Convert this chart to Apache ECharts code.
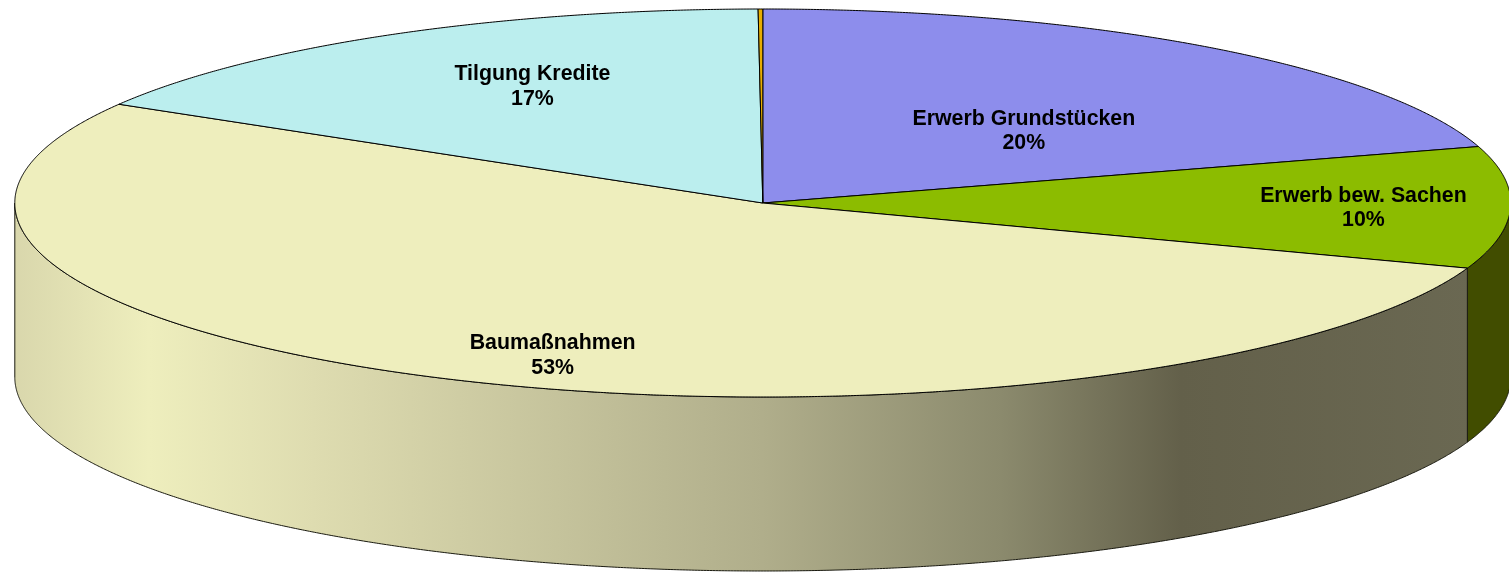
<!DOCTYPE html>
<html><head><meta charset="utf-8">
<style>html,body{margin:0;padding:0;background:#fff}#c{width:1509px;height:572px}</style>
<script src="https://cdn.jsdelivr.net/npm/echarts@6/dist/echarts.min.js"></script>
</head><body><div id="c"></div>
<script>
// data, clockwise from 12 o'clock
const categories = ['Erwerb Grundstücken', 'Erwerb bew. Sachen', 'Baumaßnahmen', 'Tilgung Kredite', 'Sonstige'];
const values = [20.3, 10.15, 53.05, 16.4, 0.1];
const percentLabels = ['20%', '10%', '53%', '17%', ''];

// presentation
const topColors = ['#8d8dec', '#8cbc00', '#eeeebd', '#bbeeee', '#e8ae00'];
const GEOM = {cx: 762.8, cy: 203, rx: 748, ry: 194, depth: 174};
const labelOffsets = [[0.349, -0.37], [0.803, 0.027], [-0.281, 0.787], [-0.308, -0.60], null];
const FONT = 'bold 21.33px "Liberation Sans", Arial, sans-serif';
const total = values.reduce((a, b) => a + b, 0);
const starts = values.map((_, i) => values.slice(0, i).reduce((a, b) => a + b, 0) / total * 2 * Math.PI);
const ends = values.map((_, i) => values.slice(0, i + 1).reduce((a, b) => a + b, 0) / total * 2 * Math.PI);
const pt = (a, dy = 0) => [GEOM.cx + GEOM.rx * Math.sin(a), GEOM.cy - GEOM.ry * Math.cos(a) + dy];
const arc = (a0, a1, dy = 0) => {
  const n = Math.max(2, Math.ceil((a1 - a0) / 0.004));
  const out = [];
  for (let k = 0; k <= n; k++) out.push(pt(a0 + (a1 - a0) * k / n, dy));
  return out;
};
const sideFill = [
  null,
  '#414d00',
  {type: 'linear', x: 14, y: 0, x2: 1510, y2: 0, global: true, colorStops: [
    {offset: 0, color: '#d9d7ac'}, {offset: 0.09, color: '#eeeebd'}, {offset: 0.2, color: '#dedcb0'},
    {offset: 0.5, color: '#b0ae8b'}, {offset: 0.66, color: '#8b8a6d'}, {offset: 0.78, color: '#63604a'},
    {offset: 1, color: '#6b6953'}]},
  null, null
];
const renderSide = (params) => {
  const i = params.dataIndex;
  const a0 = Math.max(starts[i], Math.PI / 2), a1 = Math.min(ends[i], 1.5 * Math.PI);
  if (a1 <= a0 || !sideFill[i]) return null;
  const pts = arc(a0, a1).concat(arc(a0, a1, GEOM.depth).reverse());
  return {type: 'polygon', shape: {points: pts}, style: {fill: sideFill[i], stroke: '#1a1a10', lineWidth: 1}};
};
const renderTop = (params) => {
  const i = params.dataIndex;
  const pts = [[GEOM.cx, GEOM.cy]].concat(arc(starts[i], ends[i]));
  const children = [{type: 'polygon', shape: {points: pts}, style: {fill: topColors[i], stroke: '#000', lineWidth: 1}}];
  return {type: 'group', children};
};
const renderLabel = (params) => {
  const i = params.dataIndex;
  if (!labelOffsets[i]) return null;
  return {type: 'text', style: {
    text: categories[i] + '\n' + percentLabels[i],
    x: GEOM.cx + labelOffsets[i][0] * GEOM.rx,
    y: GEOM.cy + labelOffsets[i][1] * GEOM.ry,
    font: FONT, lineHeight: 24.5, fill: '#000', textAlign: 'center', textVerticalAlign: 'middle'
  }};
};
const rows = categories.map((c, i) => ({name: c, value: values[i]}));
const chart = echarts.init(document.getElementById('c'), null, {renderer: 'canvas'});
chart.setOption({
  animation: false,
  backgroundColor: '#fff',
  series: [
    {type: 'custom', coordinateSystem: 'none', renderItem: renderSide, data: rows, z: 1, silent: true},
    {type: 'custom', coordinateSystem: 'none', renderItem: renderTop, data: rows, z: 2, silent: true},
    {type: 'custom', coordinateSystem: 'none', renderItem: renderLabel, data: rows, z: 3, silent: true}
  ]
});
</script></body></html>
